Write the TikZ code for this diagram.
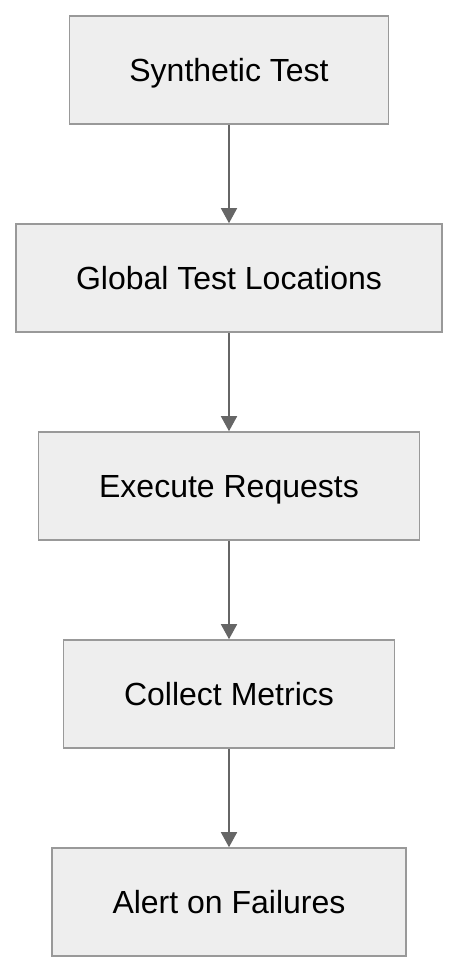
\documentclass[tikz,border=0pt]{standalone}
\usepackage{fontspec}
\setmainfont{Liberation Sans}
\usetikzlibrary{arrows.meta,positioning}
\definecolor{boxfill}{HTML}{EEEEEE}
\definecolor{boxline}{HTML}{999999}
\definecolor{arrline}{HTML}{666666}

\begin{document}
\begin{tikzpicture}[
    flowbox/.style={rectangle, draw=boxline, fill=boxfill, line width=1.6pt,
                 inner sep=0pt, minimum height=108pt, align=center,
                 text height=23pt, text depth=1pt,
                 font=\fontsize{32}{37}\selectfont},
    arr/.style={-{Triangle[length=15pt, width=16pt]}, line width=1.6pt, arrline}
  ]
    \useasboundingbox (0,0) rectangle (458pt,-972pt);
    \node[flowbox, minimum width=319pt] (synth) at (229pt, -70pt)  {Synthetic Test};
    \node[flowbox, minimum width=426pt] (locs) at (229pt, -278pt)  {Global Test Locations};
    \node[flowbox, minimum width=381pt] (exec) at (229pt, -486pt)  {Execute Requests};
    \node[flowbox, minimum width=331pt] (metrics) at (229pt, -694pt) {Collect Metrics};
    \node[flowbox, minimum width=354pt] (alert) at (229pt, -902pt) {Alert on Failures};

    \draw[arr] (synth) -- (locs);
    \draw[arr] (locs) -- (exec);
    \draw[arr] (exec) -- (metrics);
    \draw[arr] (metrics) -- (alert);
  \end{tikzpicture}
\end{document}
